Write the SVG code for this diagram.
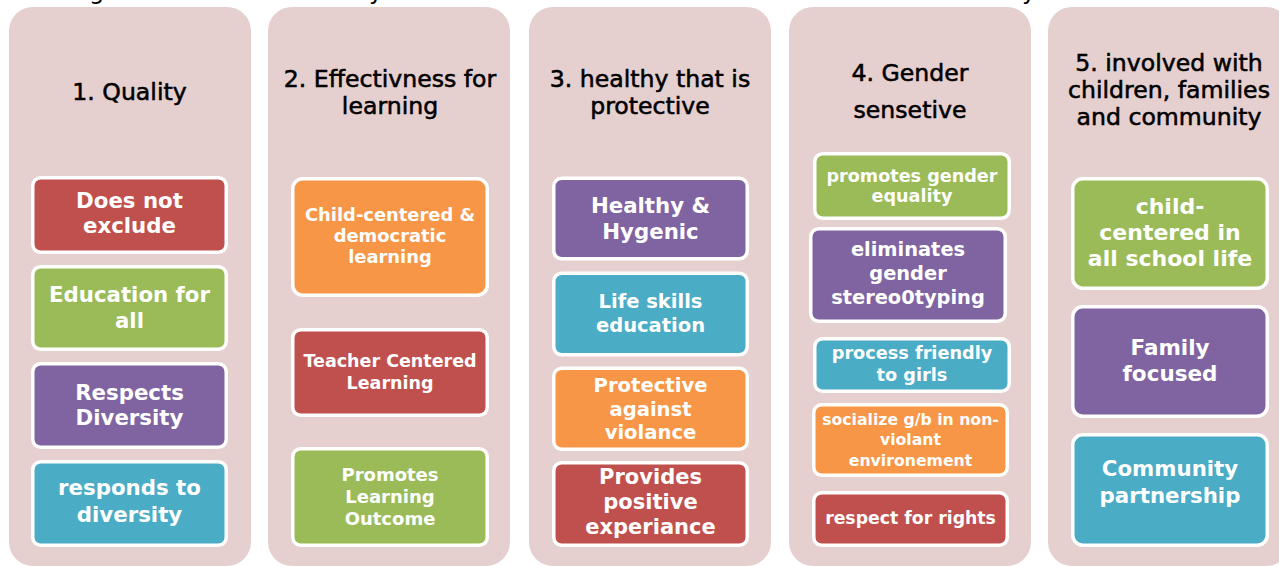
<svg xmlns="http://www.w3.org/2000/svg" width="1279" height="567" viewBox="0 0 1279 567">
<style>
  .col { fill: #E6CFCF; }
  .box { stroke: #FFFFFF; stroke-width: 3.5; }
  .red { fill: #C0504D; }
  .green { fill: #9BBB59; }
  .purple { fill: #8064A2; }
  .teal { fill: #4BACC6; }
  .orange { fill: #F79646; }
  .title { font-family: "DejaVu Sans", "Liberation Sans", sans-serif; font-size: 23.6px; fill: #000000; stroke: #000000; stroke-width: 0.55px; text-anchor: middle; }
  .lbl { font-family: "DejaVu Sans", "Liberation Sans", sans-serif; font-weight: bold; fill: #FFFFFF; text-anchor: middle; }
  .frag { font-family: "DejaVu Sans", "Liberation Sans", sans-serif; font-size: 24px; fill: #000000; }
</style>
<rect width="1279" height="567" fill="#FFFFFF"/>
<g id="caption-fragments">
  <text class="frag" x="89" y="-1">g</text>
  <text class="frag" x="369" y="-1">y</text>
  <text class="frag" x="1022" y="-1">y</text>
</g>
<g id="connectors"></g>

<g id="col1">
  <rect class="col" x="9" y="7" width="242" height="559" rx="24"/>
  <text class="title" x="129.5" y="100">1. Quality</text>
</g>
<g id="col1-box1">
  <rect class="box red" x="32.75" y="177.75" width="193.5" height="74.5" rx="8"/>
  <text class="lbl" font-size="21.3" x="129.5" y="208">Does not</text>
  <text class="lbl" font-size="21.3" x="129.5" y="233">exclude</text>
</g>
<g id="col1-box2">
  <rect class="box green" x="32.75" y="266.75" width="193.5" height="82.5" rx="8"/>
  <text class="lbl" font-size="21.3" x="129.5" y="302">Education for</text>
  <text class="lbl" font-size="21.3" x="129.5" y="328">all</text>
</g>
<g id="col1-box3">
  <rect class="box purple" x="32.75" y="363.75" width="193.5" height="83.5" rx="8"/>
  <text class="lbl" font-size="21.3" x="129.5" y="400">Respects</text>
  <text class="lbl" font-size="21.3" x="129.5" y="425">Diversity</text>
</g>
<g id="col1-box4">
  <rect class="box teal" x="32.75" y="461.75" width="193.5" height="83.5" rx="8"/>
  <text class="lbl" font-size="21.3" x="129.5" y="495">responds to</text>
  <text class="lbl" font-size="21.3" x="129.5" y="522">diversity</text>
</g>

<g id="col2">
  <rect class="col" x="268" y="7" width="242" height="559" rx="24"/>
  <text class="title" x="390" y="87">2. Effectivness for</text>
  <text class="title" x="390" y="114">learning</text>
</g>
<g id="col2-box1">
  <rect class="box orange" x="292.75" y="178.75" width="194.5" height="116.5" rx="10"/>
  <text class="lbl" font-size="17.9" x="390" y="221">Child-centered &amp;</text>
  <text class="lbl" font-size="17.9" x="390" y="242">democratic</text>
  <text class="lbl" font-size="17.9" x="390" y="263">learning</text>
</g>
<g id="col2-box2">
  <rect class="box red" x="292.75" y="329.75" width="194.5" height="85.5" rx="8"/>
  <text class="lbl" font-size="17.5" x="390" y="367">Teacher Centered</text>
  <text class="lbl" font-size="17.5" x="390" y="389">Learning</text>
</g>
<g id="col2-box3">
  <rect class="box green" x="292.75" y="448.75" width="194.5" height="96.5" rx="8"/>
  <text class="lbl" font-size="18" x="390" y="481">Promotes</text>
  <text class="lbl" font-size="18" x="390" y="503">Learning</text>
  <text class="lbl" font-size="18" x="390" y="525">Outcome</text>
</g>

<g id="col3">
  <rect class="col" x="529" y="7" width="242" height="559" rx="24"/>
  <text class="title" x="650" y="87">3. healthy that is</text>
  <text class="title" x="650" y="114">protective</text>
</g>
<g id="col3-box1">
  <rect class="box purple" x="553.75" y="178.25" width="193.5" height="80.5" rx="8"/>
  <text class="lbl" font-size="21.3" x="650.5" y="213">Healthy &amp;</text>
  <text class="lbl" font-size="21.3" x="650.5" y="239">Hygenic</text>
</g>
<g id="col3-box2">
  <rect class="box teal" x="553.75" y="273.25" width="193.5" height="81.5" rx="8"/>
  <text class="lbl" font-size="19.5" x="650.5" y="308">Life skills</text>
  <text class="lbl" font-size="19.5" x="650.5" y="332">education</text>
</g>
<g id="col3-box3">
  <rect class="box orange" x="553.75" y="368.25" width="193.5" height="81" rx="8"/>
  <text class="lbl" font-size="19.6" x="650.5" y="392">Protective</text>
  <text class="lbl" font-size="19.6" x="650.5" y="416">against</text>
  <text class="lbl" font-size="19.6" x="650.5" y="439">violance</text>
</g>
<g id="col3-box4">
  <rect class="box red" x="553.75" y="462.75" width="193.5" height="82.5" rx="8"/>
  <text class="lbl" font-size="21" x="650.5" y="484">Provides</text>
  <text class="lbl" font-size="21" x="650.5" y="509">positive</text>
  <text class="lbl" font-size="21" x="650.5" y="534">experiance</text>
</g>

<g id="col4">
  <rect class="col" x="789" y="7" width="242" height="559" rx="24"/>
  <text class="title" x="910" y="81">4. Gender</text>
  <text class="title" x="910" y="118">sensetive</text>
</g>
<g id="col4-box1">
  <rect class="box green" x="814.75" y="153.75" width="194.5" height="64.5" rx="8"/>
  <text class="lbl" font-size="17.6" x="912" y="182">promotes gender</text>
  <text class="lbl" font-size="17.6" x="912" y="202">equality</text>
</g>
<g id="col4-box2">
  <rect class="box purple" x="810.75" y="228.75" width="194.5" height="92.5" rx="8"/>
  <text class="lbl" font-size="19.4" x="908" y="256">eliminates</text>
  <text class="lbl" font-size="19.4" x="908" y="280">gender</text>
  <text class="lbl" font-size="19.4" x="908" y="304">stereo0typing</text>
</g>
<g id="col4-box3">
  <rect class="box teal" x="814.75" y="338.75" width="194.5" height="52.5" rx="8"/>
  <text class="lbl" font-size="17.7" x="912" y="359">process friendly</text>
  <text class="lbl" font-size="17.7" x="912" y="381">to girls</text>
</g>
<g id="col4-box4">
  <rect class="box orange" x="813.75" y="404.75" width="193.5" height="70.5" rx="8"/>
  <text class="lbl" font-size="15.7" x="910.5" y="425">socialize g/b in non-</text>
  <text class="lbl" font-size="15.7" x="910.5" y="445">violant</text>
  <text class="lbl" font-size="15.7" x="910.5" y="466">environement</text>
</g>
<g id="col4-box5">
  <rect class="box red" x="813.75" y="492.75" width="193.5" height="52.5" rx="8"/>
  <text class="lbl" font-size="17.3" x="910.5" y="524">respect for rights</text>
</g>

<g id="col5">
  <rect class="col" x="1048" y="7" width="242" height="559" rx="24"/>
  <text class="title" x="1169" y="71">5. involved with</text>
  <text class="title" x="1169" y="98">children, families</text>
  <text class="title" x="1169" y="125">and community</text>
</g>
<g id="col5-box1">
  <rect class="box green" x="1072.75" y="178.75" width="194.5" height="109.5" rx="10"/>
  <text class="lbl" font-size="22" x="1170" y="214">child-</text>
  <text class="lbl" font-size="22" x="1170" y="240">centered in</text>
  <text class="lbl" font-size="22" x="1170" y="266">all school life</text>
</g>
<g id="col5-box2">
  <rect class="box purple" x="1072.75" y="306.75" width="194.5" height="109.5" rx="10"/>
  <text class="lbl" font-size="21.5" x="1170" y="355">Family</text>
  <text class="lbl" font-size="21.5" x="1170" y="381">focused</text>
</g>
<g id="col5-box3">
  <rect class="box teal" x="1072.75" y="434.75" width="194.5" height="110.5" rx="10"/>
  <text class="lbl" font-size="21.3" x="1170" y="476">Community</text>
  <text class="lbl" font-size="21.3" x="1170" y="503">partnership</text>
</g>
</svg>
